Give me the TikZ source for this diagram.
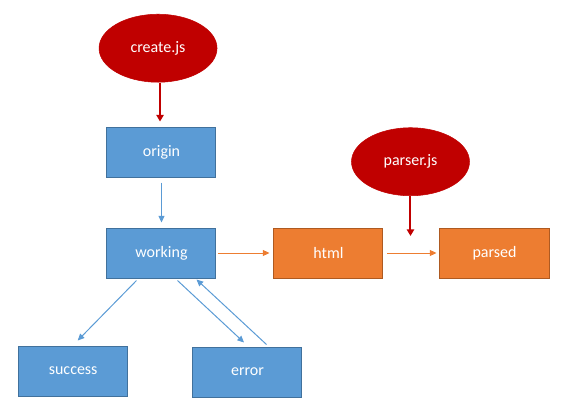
\documentclass[tikz,border=0pt]{standalone}
\usepackage{fontspec}
\setmainfont{Carlito}
\usetikzlibrary{positioning,shapes.geometric,arrows.meta}

\definecolor{boxblue}{HTML}{5B9BD5}
\definecolor{lineblue}{HTML}{41719C}
\definecolor{boxorange}{HTML}{ED7D31}
\definecolor{lineorange}{HTML}{AE5A21}
\definecolor{jsred}{HTML}{C00000}

\tikzset{
  blk/.style={rectangle, fill=boxblue, draw=lineblue, line width=0.75pt,
    minimum width=81.75pt, minimum height=37.5pt, inner sep=0pt,
    text=white, font=\fontsize{12}{14}\selectfont},
  outblk/.style={blk, fill=boxorange, draw=lineorange},
  script/.style={ellipse, fill=jsred, draw=jsred, minimum width=88.5pt,
    minimum height=51pt, inner sep=0pt, text=white,
    font=\fontsize{12}{14}\selectfont},
  flow/.style={draw=boxblue, line width=0.75pt,
    -{Triangle[length=5pt,width=4.5pt]}},
  outflow/.style={flow, draw=boxorange},
  feed/.style={draw=jsred, line width=1.5pt,
    -{Triangle[length=5pt,width=5.5pt]}},
}

\begin{document}
\begin{tikzpicture}
	\node [blk] (origin) {origin};
	\node [script, above=33pt of origin, xshift=-2.6pt] (create) {create.js};
	\node [blk, below=37.5pt of origin] (working) {working};

	\node [outblk, right=42.75pt of working] (html) {html};
	\node [outblk, right=42pt of html] (parsed) {parsed};

	\coordinate [above right=12.75pt and 20.25pt of html.east] (join);
	\node [script, above=30pt of join] (parser) {parser.js};

	\node [blk, below=50.25pt of working, xshift=-66.25pt] (success) {success};
	\node [blk, below=51pt of working, xshift=64.5pt] (error) {error};

	\draw [feed] ([xshift=1.5pt]create.south) -- ([xshift=-1.1pt, yshift=3.75pt]origin.north);
	\draw [feed] (parser.south) -- (join);

	\draw [flow, shorten <=3.75pt, shorten >=3.75pt] (origin) -- (working);
	\draw [outflow, shorten <=1.5pt, shorten >=3pt] (working) -- (html);
	\draw [outflow, shorten <=3pt, shorten >=2.25pt] (html) -- (parsed);

	\draw [flow] ([shift={(22.5pt,-1.5pt)}]working.south west) -- ([shift={(3.4pt,3.75pt)}]success.north);
	\draw [flow] ([shift={(53.25pt,-1.5pt)}]working.south west) -- ([shift={(-2.6pt,3pt)}]error.north);
	\draw [flow] ([shift={(55.5pt,1.5pt)}]error.north west) -- ([shift={(-15pt,-0.75pt)}]working.south east);

	\useasboundingbox (-121.125pt,-195pt) rectangle (302.625pt,114pt);
\end{tikzpicture}
\end{document}
